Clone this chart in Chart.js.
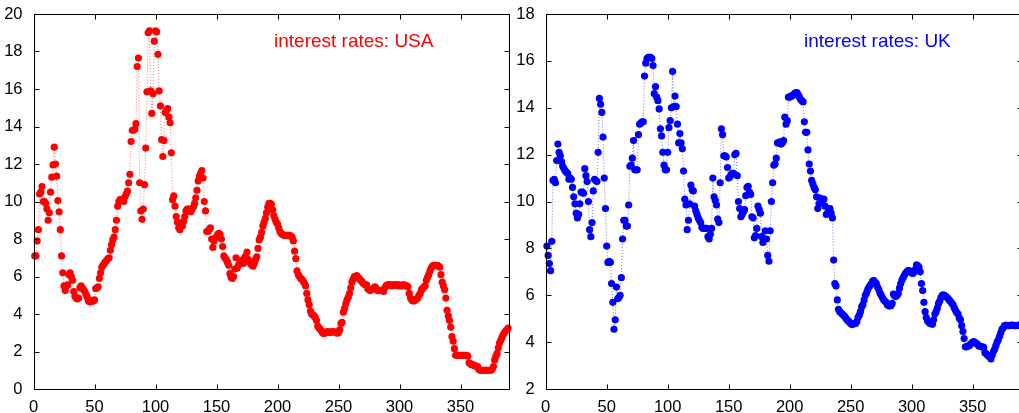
<!DOCTYPE html>
<html><head><meta charset="utf-8">
<script src="https://cdn.jsdelivr.net/npm/chart.js@4.4.1/dist/chart.umd.min.js"></script>
<style>
html,body{margin:0;padding:0;background:#fff;overflow:hidden;width:1019px;height:413px;position:relative;}
#c1{position:absolute;left:0;top:0;}
#c2{position:absolute;left:510px;top:0;}
</style></head><body>
<canvas id="c1" width="520" height="413"></canvas>
<canvas id="c2" width="520" height="413"></canvas>
<script>
const xTicks = [0, 50, 100, 150, 200, 250, 300, 350];
const yTicksUSA = [0, 2, 4, 6, 8, 10, 12, 14, 16, 18, 20];
const yTicksUK = [2, 4, 6, 8, 10, 12, 14, 16, 18];
const titleUSA = "interest rates: USA";
const titleUK = "interest rates: UK";

const usa = [
7.1, 7.1, 7.9, 8.5, 10.4, 10.5, 10.8, 10.0, 10.0, 9.9,
9.6, 9.0, 9.4, 10.5, 11.3, 11.95, 12.9, 12.0, 11.35, 10.05,
9.45, 8.5, 7.1, 6.2, 5.5, 5.25, 5.5, 5.55, 6.1, 6.2,
6.0, 5.8, 5.2, 4.95, 4.85, 4.8, 4.85, 5.4, 5.5, 5.4,
5.3, 5.2, 5.05, 4.9, 4.7, 4.65, 4.65, 4.7, 4.7, 4.75,
5.35, 5.4, 5.45, 5.9, 6.2, 6.5, 6.6, 6.7, 6.8, 6.85,
6.95, 7.0, 7.4, 7.7, 7.95, 8.1, 8.5, 9.0, 9.75, 10.0,
10.1, 10.1, 10.05, 10.0, 10.25, 10.4, 10.55, 11.0, 11.45, 13.2,
13.8, 13.8, 13.85, 14.15, 17.2, 17.65, 11.0, 9.5, 9.05, 9.6,
10.9, 12.85, 15.85, 19.0, 19.1, 15.9, 14.7, 15.75, 18.55, 19.1,
19.05, 17.85, 15.9, 15.1, 13.3, 12.4, 13.25, 14.75, 14.85, 14.95,
14.5, 14.2, 12.6, 10.1, 10.3, 9.75, 9.2, 8.9, 8.6, 8.5,
8.7, 8.7, 8.95, 9.2, 9.5, 9.6, 9.6, 9.5, 9.45, 9.6,
9.7, 9.9, 10.2, 10.6, 11.1, 11.35, 11.5, 11.65, 11.25, 10.0,
9.5, 8.4, 8.4, 8.5, 8.6, 8.0, 7.55, 7.9, 8.05, 8.1,
8.25, 8.3, 8.25, 8.0, 7.6, 7.1, 7.0, 6.9, 6.75, 6.6,
6.15, 5.95, 5.9, 6.0, 6.4, 7.0, 6.45, 6.6, 6.7, 6.85,
6.85, 6.7, 7.0, 7.1, 7.3, 6.9, 6.8, 6.7, 6.6, 6.55,
6.7, 6.9, 7.05, 7.5, 7.95, 8.1, 8.35, 8.7, 8.9, 9.1,
9.4, 9.7, 9.9, 9.9, 9.85, 9.55, 9.25, 9.05, 8.9, 8.8,
8.6, 8.4, 8.3, 8.25, 8.2, 8.2, 8.2, 8.2, 8.2, 8.2,
8.15, 8.1, 7.9, 7.35, 6.95, 6.3, 6.1, 6.0, 5.9, 5.85,
5.75, 5.65, 5.5, 5.1, 4.75, 4.5, 4.15, 4.0, 3.95, 3.9,
3.8, 3.65, 3.35, 3.25, 3.2, 3.1, 3.0, 2.95, 3.0, 3.05,
3.05, 3.05, 3.0, 3.05, 3.05, 3.05, 3.05, 3.0, 2.98, 3.0,
3.15, 3.5, 3.55, 4.1, 4.3, 4.55, 4.75, 4.9, 5.1, 5.4,
5.7, 5.85, 6.0, 6.0, 6.05, 5.95, 5.9, 5.8, 5.75, 5.65,
5.6, 5.55, 5.55, 5.35, 5.3, 5.25, 5.3, 5.35, 5.4, 5.45,
5.35, 5.25, 5.25, 5.25, 5.25, 5.25, 5.2, 5.4, 5.5, 5.55,
5.55, 5.55, 5.55, 5.5, 5.55, 5.55, 5.55, 5.55, 5.5, 5.55,
5.5, 5.5, 5.55, 5.55, 5.5, 5.5, 5.45, 5.1, 4.85, 4.75,
4.7, 4.7, 4.75, 4.8, 4.85, 5.0, 5.1, 5.3, 5.35, 5.45,
5.5, 5.8, 5.95, 6.1, 6.3, 6.45, 6.55, 6.6, 6.6, 6.6,
6.6, 6.55, 6.5, 6.1, 5.7, 5.5, 5.3, 4.85, 4.2, 3.9,
3.65, 3.3, 2.8, 2.55, 2.15, 1.8, 1.8, 1.8, 1.8, 1.8,
1.8, 1.8, 1.8, 1.8, 1.8, 1.75, 1.4, 1.35, 1.3, 1.3,
1.25, 1.25, 1.2, 1.2, 1.05, 1.0, 1.0, 1.0, 1.0, 1.0,
1.0, 1.0, 1.0, 1.0, 1.0, 1.05, 1.2, 1.55, 1.75, 1.9,
2.2, 2.45, 2.6, 2.75, 2.9, 3.0, 3.1, 3.15, 3.25
];

const uk = [
8.1, 7.7, 7.35, 7.05, 8.3, 10.9, 10.95, 10.8, 11.75, 12.45,
12.1, 11.95, 11.7, 11.5, 11.4, 11.3, 11.25, 11.2, 10.95, 11.0,
10.95, 10.6, 10.2, 9.9, 9.5, 9.3, 9.45, 9.9, 10.4, 10.4,
10.35, 11.4, 11.1, 10.85, 10.0, 8.8, 8.5, 9.1, 10.45, 10.95,
10.9, 10.85, 12.1, 14.4, 14.15, 13.8, 12.75, 11.0, 9.7, 8.1,
7.4, 7.45, 7.4, 6.5, 5.7, 4.55, 4.95, 6.35, 5.85, 5.9,
6.0, 6.75, 8.4, 9.2, 9.2, 8.95, 8.95, 9.85, 11.5, 11.55,
11.85, 12.6, 11.35, 11.35, 11.35, 12.85, 13.3, 13.35, 13.4, 13.4,
15.35, 15.9, 16.1, 16.15, 16.15, 16.15, 16.1, 15.8, 14.6, 14.9,
14.45, 14.3, 13.95, 13.1, 12.8, 12.1, 11.55, 11.35, 11.35, 12.1,
13.15, 13.45, 14.0, 15.55, 14.05, 14.5, 14.05, 13.3, 12.5, 12.9,
12.5, 12.25, 11.3, 10.1, 9.85, 8.8, 9.2, 9.9, 10.7, 10.5,
10.45, 9.8, 9.6, 9.45, 9.3, 9.2, 9.1, 8.9, 8.85, 8.85,
8.85, 8.85, 8.5, 8.4, 8.6, 8.85, 11.0, 10.2, 10.05, 9.85,
9.25, 9.1, 10.8, 13.1, 12.85, 11.95, 11.95, 11.9, 11.45, 11.0,
11.05, 11.15, 11.2, 11.2, 12.0, 12.05, 11.1, 10.0, 9.7, 9.35,
9.45, 9.55, 9.65, 10.25, 10.6, 10.65, 10.4, 10.3, 9.35, 9.3,
8.45, 8.55, 8.85, 9.8, 9.65, 9.5, 8.5, 8.25, 8.4, 8.75,
8.4, 7.7, 7.45, 8.75, 10.0, 10.8, 11.55, 11.6, 11.85, 12.5,
12.5, 12.55, 12.45, 12.5, 12.6, 13.6, 13.3, 13.45, 14.45, 14.45,
14.5, 14.5, 14.55, 14.6, 14.65, 14.65, 14.55, 14.45, 14.35, 14.3,
14.25, 13.4, 12.95, 12.95, 12.2, 11.6, 11.3, 10.9, 10.75, 10.6,
10.5, 10.2, 9.7, 9.9, 10.15, 9.95, 10.05, 10.1, 9.8, 9.45,
9.5, 9.6, 9.7, 9.5, 9.3, 7.5, 6.5, 6.4, 5.8, 5.4,
5.3, 5.25, 5.2, 5.15, 5.1, 5.02, 4.95, 4.9, 4.85, 4.8,
4.75, 4.78, 4.78, 4.8, 4.88, 5.05, 5.15, 5.3, 5.5, 5.6,
5.8, 6.0, 6.1, 6.25, 6.35, 6.42, 6.5, 6.6, 6.62, 6.55,
6.5, 6.35, 6.25, 6.1, 6.0, 5.9, 5.8, 5.75, 5.7, 5.6,
5.55, 5.55, 5.55, 5.65, 6.05, 5.98, 5.95, 6.0, 6.08, 6.3,
6.5, 6.65, 6.75, 6.85, 6.95, 7.0, 7.05, 7.05, 7.0, 6.95,
6.93, 7.0, 7.1, 7.3, 7.25, 7.2, 7.0, 6.5, 6.2, 5.7,
5.3, 5.05, 4.9, 4.85, 4.8, 4.78, 4.76, 4.95, 5.2, 5.3,
5.45, 5.65, 5.75, 5.9, 6.0, 6.02, 5.98, 5.95, 5.9, 5.85,
5.78, 5.72, 5.65, 5.58, 5.45, 5.35, 5.25, 5.2, 5.02, 4.95,
4.7, 4.45, 4.15, 3.8, 3.8, 3.82, 3.85, 3.9, 3.95, 4.0,
4.02, 3.98, 3.95, 3.9, 3.83, 3.82, 3.8, 3.8, 3.78, 3.55,
3.5, 3.45, 3.4, 3.38, 3.28, 3.45, 3.6, 3.7, 3.85, 4.0,
4.1, 4.25, 4.4, 4.55, 4.6, 4.7, 4.72, 4.72, 4.7, 4.7,
4.72, 4.73, 4.72, 4.7, 4.7, 4.7, 4.72, 4.72, 4.75
];

const FONT = "'Liberation Sans', Arial, Helvetica, sans-serif";

const boxPlugin = {
  id: 'matlabBox',
  afterDatasetsDraw(chart, args, opts) {
    const {ctx, chartArea} = chart;
    const x = chart.scales.x, y = chart.scales.y;
    const L = Math.round(chartArea.left) + 0.5, R = Math.round(chartArea.right) + 0.5;
    const T = Math.round(chartArea.top) + 0.5, B = Math.round(chartArea.bottom) + 0.5;
    ctx.save();
    ctx.strokeStyle = '#000';
    ctx.lineWidth = 1;
    ctx.beginPath();
    ctx.moveTo(L, T); ctx.lineTo(R, T); ctx.lineTo(R, B); ctx.lineTo(L, B); ctx.closePath();
    const tl = 5;
    x.ticks.forEach(t => {
      const px = Math.round(x.getPixelForValue(t.value)) + 0.5;
      ctx.moveTo(px, B); ctx.lineTo(px, B - tl);
      ctx.moveTo(px, T); ctx.lineTo(px, T + tl);
    });
    y.ticks.forEach(t => {
      const py = Math.round(y.getPixelForValue(t.value)) + 0.5;
      ctx.moveTo(L, py); ctx.lineTo(L + tl, py);
      ctx.moveTo(R, py); ctx.lineTo(R - tl, py);
    });
    ctx.stroke();
    ctx.fillStyle = opts.color;
    ctx.font = '19px ' + FONT;
    ctx.textBaseline = 'alphabetic';
    ctx.textAlign = 'left';
    ctx.fillText(opts.text, chartArea.left + opts.dx, chartArea.top + 32.5);
    ctx.restore();
  }
};

function makeChart(id, values, color, lineColor, yMin, yMax, yTicks, title, axisW, padRight, titleDx) {
  const pts = values.map((v, i) => ({x: i + 1, y: v}));
  return new Chart(document.getElementById(id), {
    type: 'line',
    data: { datasets: [{
      data: pts,
      borderColor: lineColor,
      borderWidth: 1,
      borderDash: [1, 2],
      pointRadius: 3.6,
      pointBackgroundColor: color,
      pointBorderColor: color,
      pointBorderWidth: 0,
      tension: 0,
      clip: 8
    }]},
    options: {
      responsive: false,
      animation: false,
      events: [],
      devicePixelRatio: 1,
      layout: { padding: { left: 0, top: 14, right: padRight, bottom: 0 } },
      plugins: {
        legend: { display: false },
        tooltip: { enabled: false },
        matlabBox: { text: title, color: color, dx: titleDx }
      },
      scales: {
        x: {
          type: 'linear', min: 0, max: 390,
          afterBuildTicks: s => { s.ticks = xTicks.map(v => ({value: v})); },
          grid: { display: false }, border: { display: false },
          ticks: { font: { family: FONT, size: 16.5 }, color: '#000', padding: 1, maxRotation: 0, autoSkip: false },
          afterFit: s => { s.height = 24; }
        },
        y: {
          type: 'linear', min: yMin, max: yMax,
          afterBuildTicks: s => { s.ticks = yTicks.map(v => ({value: v})); },
          grid: { display: false }, border: { display: false },
          ticks: { font: { family: FONT, size: 16.5 }, color: '#000', padding: 3, autoSkip: false },
          afterFit: s => { s.width = axisW; }
        }
      }
    },
    plugins: [boxPlugin]
  });
}

makeChart('c1', usa, '#ff0000', 'rgba(255,0,0,0.55)', 0, 20, yTicksUSA, titleUSA, 33.5, 10.7, 240.5);
makeChart('c2', uk, '#0000ff', 'rgba(0,0,255,0.55)', 2, 18, yTicksUK, titleUK, 35.7, 8.5, 258.3);
</script>
</body></html>
